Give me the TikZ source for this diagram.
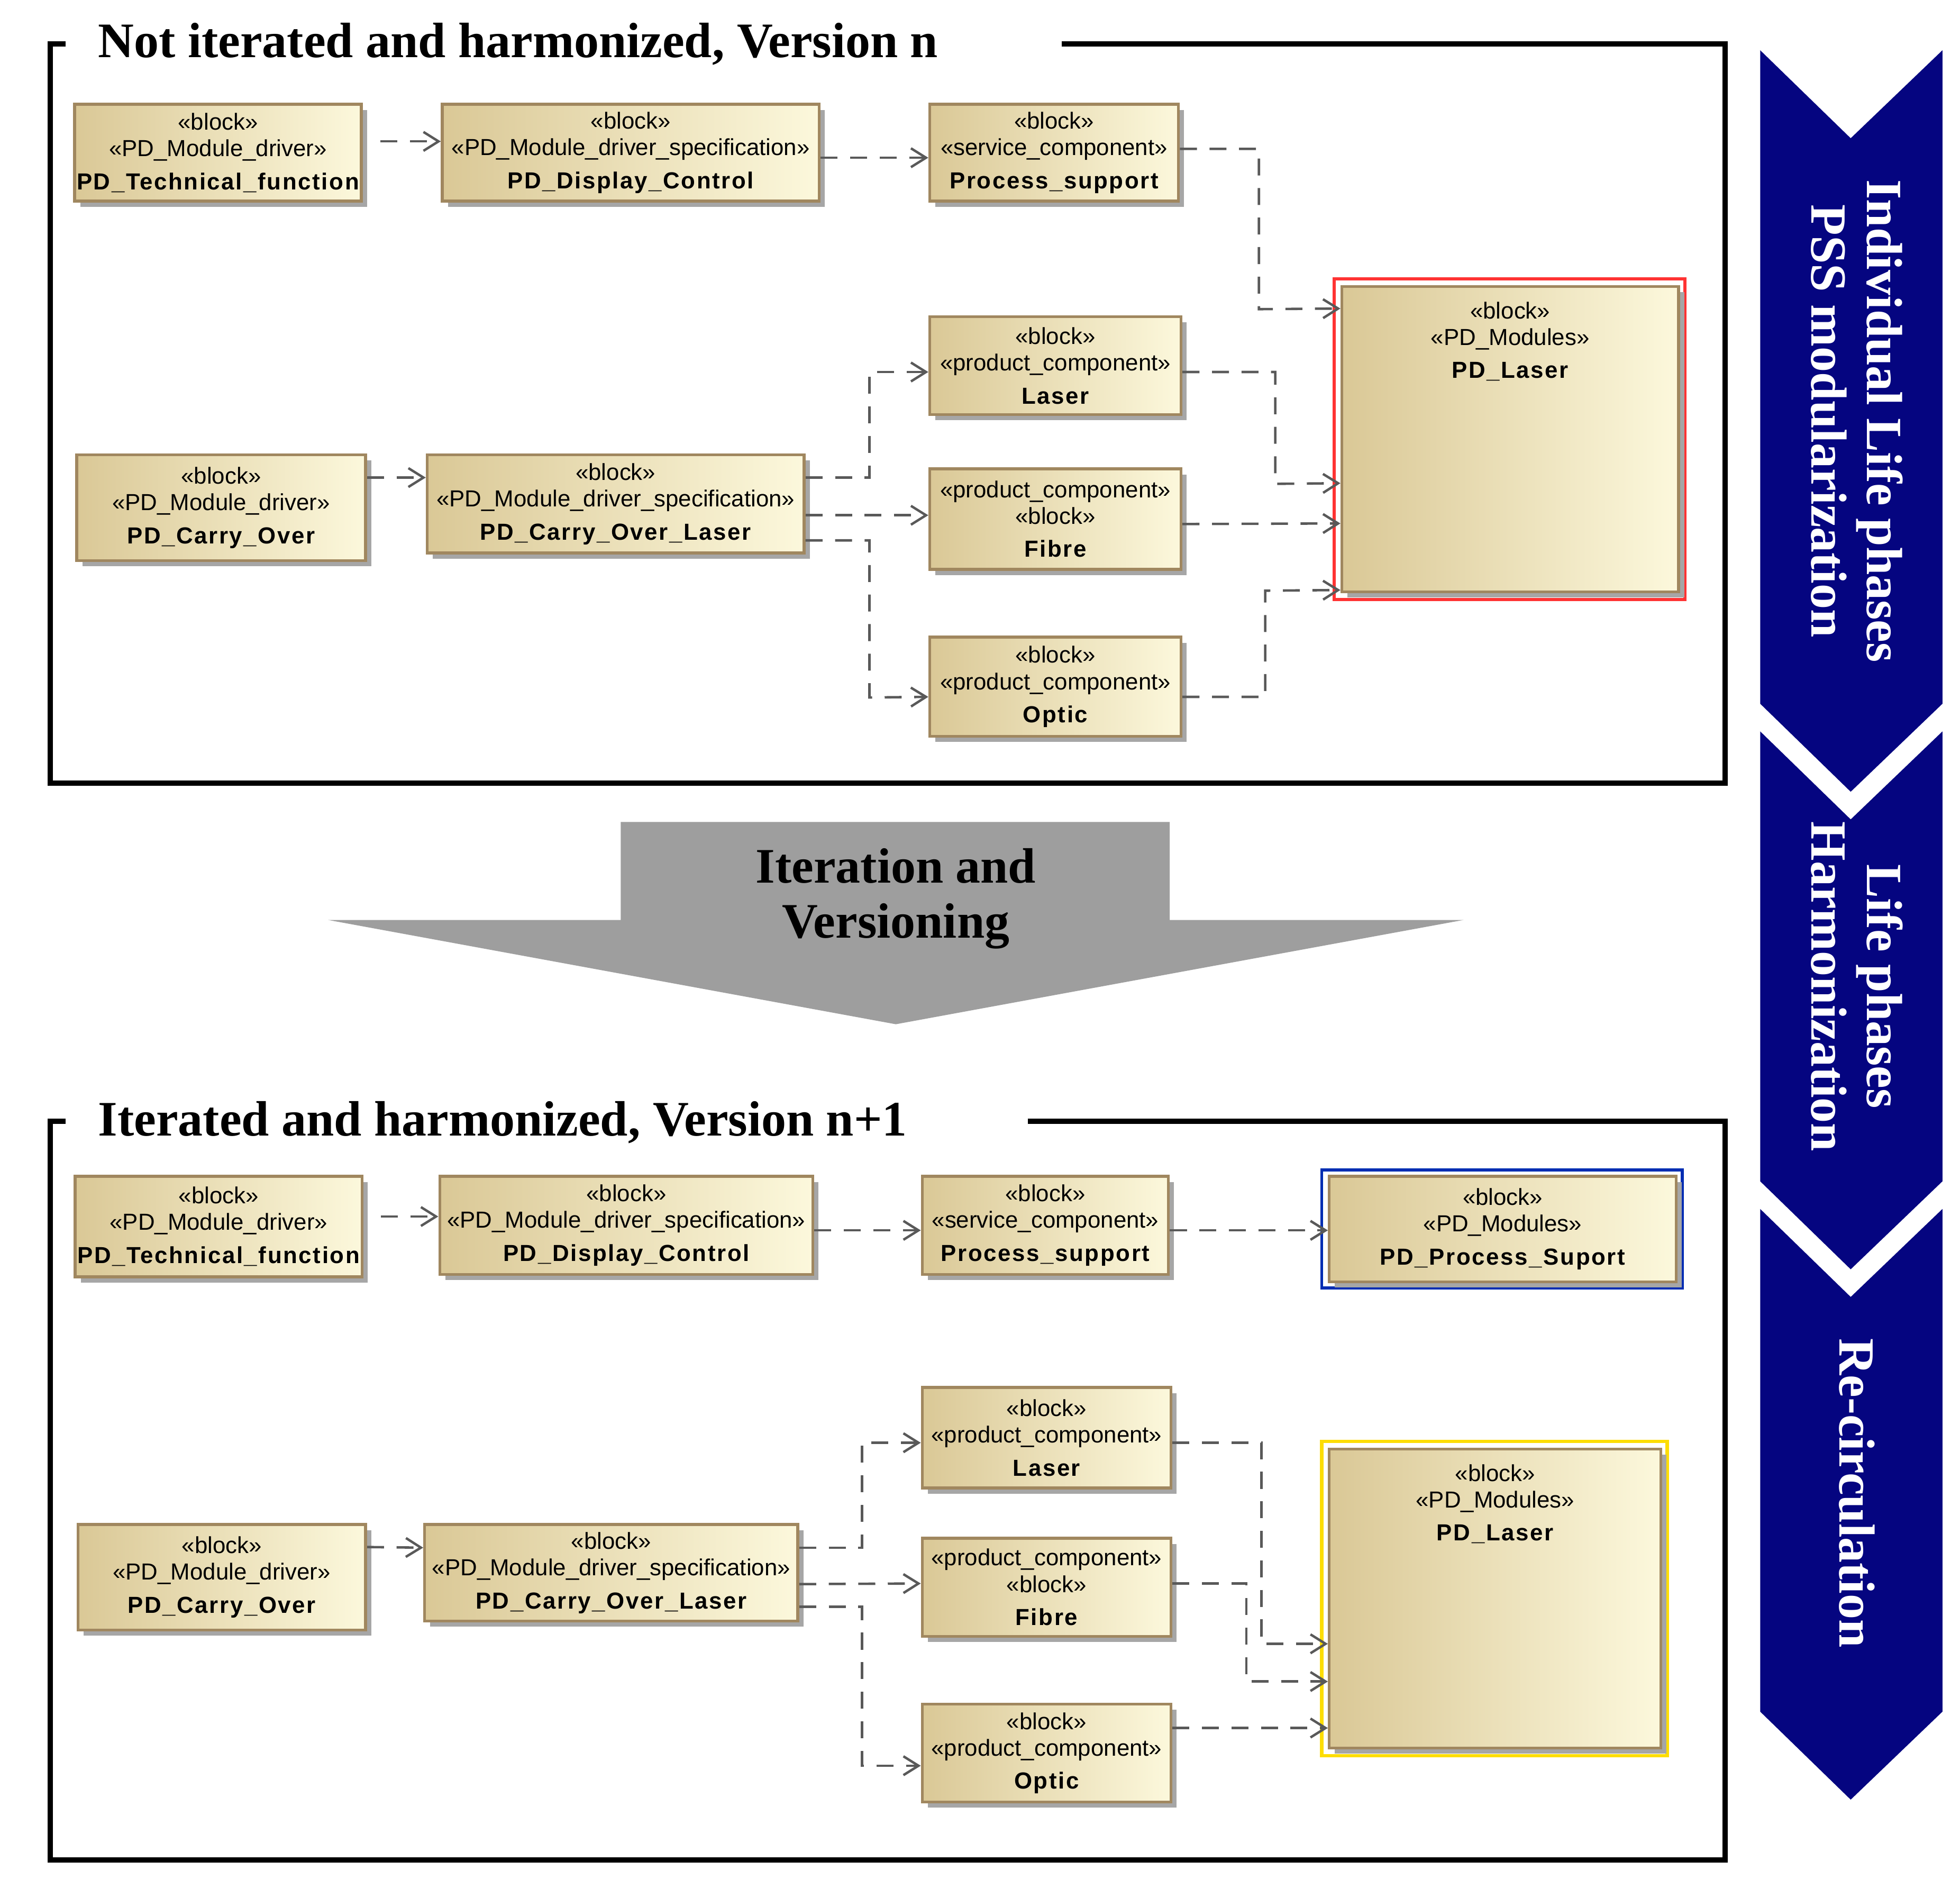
\documentclass[tikz,border=0pt]{standalone}
\usepackage{fontspec}
\setmainfont{Liberation Sans}
\newfontfamily\ttl{Liberation Serif}
\newfontfamily\bsp{Liberation Sans}[LetterSpace=6,BoldFont=* Bold]
\usetikzlibrary{arrows.meta,shadows,calc}
\definecolor{navy}{RGB}{5,5,128}
\definecolor{bdark}{RGB}{218,200,150}
\definecolor{blight}{RGB}{252,248,220}
\definecolor{bborder}{RGB}{160,135,95}
\newcommand\bn[1]{{\bsp\bfseries #1}}
\tikzset{
 blk/.style={draw=bborder,line width=1.3pt,left color=bdark,right color=blight,
   drop shadow={shadow xshift=0.09cm,shadow yshift=-0.09cm,fill=black!35,opacity=1},
   align=center,inner sep=1pt,font=\fontsize{10.5}{12}\selectfont},
 dep/.style={draw=black!65,line width=1.1pt,dash pattern=on 0.27cm off 0.2cm,
   -{Straight Barb[length=0.24cm,width=0.3cm,line width=1.1pt]}},
 frm/.style={line width=2.4pt,draw=black},
 ttlf/.style={font=\ttl\bfseries\fontsize{22.5}{26}\selectfont,anchor=west},
 chev/.style={fill=navy,draw=none},
 chevt/.style={font=\ttl\bfseries\fontsize{23}{25}\selectfont,text=white,rotate=-90,align=center}
}
\newcommand\blk[6]{\node[blk,minimum width={(#4-#2)*0.02cm},minimum height={(#5-#3)*0.02cm}] (#1) at ({(#2+#4)/2},{(#3+#5)/2}) {#6};}
\newcommand\bigblk[6]{\node[blk,minimum width={(#4-#2)*0.02cm},minimum height={(#5-#3)*0.02cm}] (#1) at ({(#2+#4)/2},{(#3+#5)/2}) {};
 \node[align=center,font=\fontsize{10.5}{12}\selectfont,anchor=north] at ({(#2+#4)/2},{#3+6}) {#6};}
\begin{document}
\begin{tikzpicture}[x=0.02cm,y=-0.02cm]
\useasboundingbox (0,0) rectangle (1560,1502);
% frames
\draw[frm] (845,35) -- (1373,35) -- (1373,623) -- (40,623) -- (40,35) -- (52,35);
\node[ttlf] (t1) at (72,35) {Not iterated and harmonized, Version n};
\draw[frm] (818,892) -- (1373,892) -- (1373,1480) -- (40,1480) -- (40,892) -- (52,892);
\node[ttlf] (t2) at (72,893) {Iterated and harmonized, Version n+1};
% big gray arrow
\fill[black!38] (494,654) -- (931,654) -- (931,732) -- (1165,732) -- (713,815) -- (261,732) -- (494,732) -- cycle;
\node[font=\ttl\bfseries\fontsize{22.5}{25}\selectfont,align=center] (it) at (713,715) {Iteration and\\Versioning};
% chevrons
\fill[chev] (1401,40) -- (1473,110) -- (1546,40) -- (1546,560) -- (1473,630) -- (1401,560) -- cycle;
\fill[chev] (1401,582) -- (1473,652) -- (1546,582) -- (1546,940) -- (1473,1010) -- (1401,940) -- cycle;
\fill[chev] (1401,962) -- (1473,1032) -- (1546,962) -- (1546,1362) -- (1473,1432) -- (1401,1362) -- cycle;
\node[chevt] (c1) at (1478,335) {Individual Life phases\\PSS modularization};
\node[chevt] (c2) at (1478,785) {Life phases\\Harmonization};
\node[chevt] (c3) at (1478,1188) {Re-circulation};
% top blocks
\blk{A1}{61}{83}{286}{160}{«block»\\«PD\_Module\_driver»\\[3pt]\bn{PD\_Technical\_function}}
\blk{A2}{352}{83}{652}{160}{«block»\\«PD\_Module\_driver\_specification»\\[3pt]\bn{PD\_Display\_Control}}
\blk{A3}{740}{83}{938}{160}{«block»\\«service\_component»\\[3pt]\bn{Process\_support}}
\draw[red!80,line width=1.4pt] (1062,222) rectangle (1341,477);
\bigblk{A4}{1068}{228}{1336}{471}{«block»\\«PD\_Modules»\\[3pt]\bn{PD\_Laser}}
\blk{B1}{61}{362}{291}{446}{«block»\\«PD\_Module\_driver»\\[3pt]\bn{PD\_Carry\_Over}}
\blk{B2}{340}{362}{640}{440}{«block»\\«PD\_Module\_driver\_specification»\\[3pt]\bn{PD\_Carry\_Over\_Laser}}
\blk{L}{740}{252}{940}{330}{«block»\\«product\_component»\\[3pt]\bn{Laser}}
\blk{F}{740}{373}{940}{453}{«product\_component»\\«block»\\[3pt]\bn{Fibre}}
\blk{O}{740}{507}{940}{586}{«block»\\«product\_component»\\[3pt]\bn{Optic}}
% top connectors
\draw[dep] ($(A1.east)+(14,-9)$) -- ($(A2.west)+(0,-9)$);
\draw[dep] ($(A2.east)+(0,4)$) -- ($(A3.west)+(0,4)$);
\draw[dep] ($(A3.east)+(0,-3)$) -| (1002,246) -- ($(A4.west)+(0,-104)$);
\draw[dep] ($(B1.east)+(0,-24)$) -- ($(B2.west)+(0,-21)$);
\draw[dep] ($(B2.east)+(0,-21)$) -| (692,296) -- ($(L.west)+(0,5)$);
\draw[dep] ($(B2.east)+(0,9)$) -- ($(F.west)+(0,-3)$);
\draw[dep] ($(B2.east)+(0,29)$) -| (692,555) -- ($(O.west)+(0,8)$);
\draw[dep] ($(L.east)+(0,5)$) -| (1015,385) -- ($(A4.west)+(0,35)$);
\draw[dep] ($(F.east)+(0,4)$) -- ($(A4.west)+(0,67)$);
\draw[dep] ($(O.east)+(0,8)$) -| (1007,470) -- ($(A4.west)+(0,120)$);
% bottom blocks
\blk{C1}{62}{936}{286}{1016}{«block»\\«PD\_Module\_driver»\\[3pt]\bn{PD\_Technical\_function}}
\blk{C2}{350}{936}{647}{1014}{«block»\\«PD\_Module\_driver\_specification»\\[3pt]\bn{PD\_Display\_Control}}
\blk{C3}{734}{936}{930}{1014}{«block»\\«service\_component»\\[3pt]\bn{Process\_support}}
\draw[blue!75!cyan!70!black,line width=1.4pt] (1052,931) rectangle (1339,1025);
\blk{C4}{1058}{936}{1334}{1020}{«block»\\«PD\_Modules»\\[3pt]\bn{PD\_Process\_Suport}}
\blk{D1}{62}{1213}{291}{1297}{«block»\\«PD\_Module\_driver»\\[3pt]\bn{PD\_Carry\_Over}}
\blk{D2}{338}{1213}{635}{1290}{«block»\\«PD\_Module\_driver\_specification»\\[3pt]\bn{PD\_Carry\_Over\_Laser}}
\blk{L2}{734}{1104}{932}{1184}{«block»\\«product\_component»\\[3pt]\bn{Laser}}
\blk{F2}{734}{1224}{932}{1302}{«product\_component»\\«block»\\[3pt]\bn{Fibre}}
\blk{O2}{734}{1356}{932}{1434}{«block»\\«product\_component»\\[3pt]\bn{Optic}}
\draw[yellow!80!orange,line width=1.6pt] (1052,1147) rectangle (1327,1397);
\bigblk{E}{1058}{1153}{1322}{1391}{«block»\\«PD\_Modules»\\[3pt]\bn{PD\_Laser}}
% bottom connectors
\draw[dep] ($(C1.east)+(14,-8)$) -- ($(C2.west)+(0,-7)$);
\draw[dep] ($(C2.east)+(0,4)$) -- ($(C3.west)+(0,4)$);
\draw[dep] ($(C3.east)+(0,4)$) -- ($(C4.west)+(0,1)$);
\draw[dep] ($(D1.east)+(0,-24)$) -- ($(D2.west)+(0,-20)$);
\draw[dep] ($(D2.east)+(0,-20)$) -| (686,1148) -- ($(L2.west)+(0,4)$);
\draw[dep] ($(D2.east)+(0,9)$) -- ($(F2.west)+(0,-3)$);
\draw[dep] ($(D2.east)+(0,27)$) -| (686,1405) -- ($(O2.west)+(0,10)$);
\draw[dep] ($(L2.east)+(0,4)$) -| (1004,1308) -- ($(E.west)+(0,36)$);
\draw[dep] ($(F2.east)+(0,-3)$) -| (992,1338) -- ($(E.west)+(0,66)$);
\draw[dep] ($(O2.east)+(0,-20)$) -- ($(E.west)+(0,103)$);
\end{tikzpicture}
\end{document}
